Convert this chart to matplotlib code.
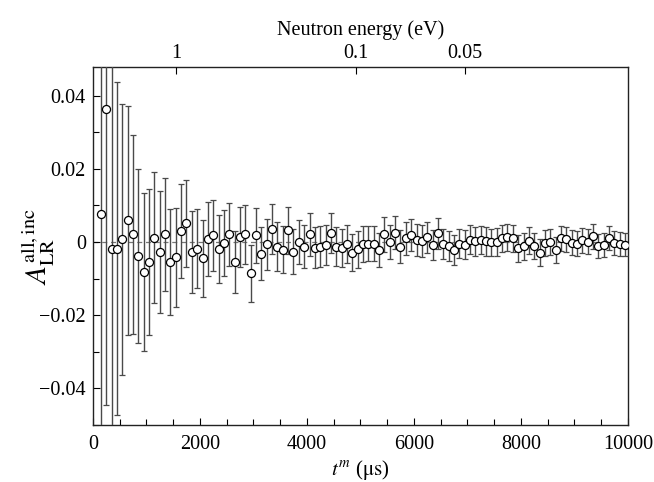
"""Left-right asymmetry vs. neutron time-of-flight, with energy on the top axis."""

import matplotlib
matplotlib.use("Agg")
import matplotlib.pyplot as plt
import matplotlib.ticker as mticker
import numpy as np

plt.rcParams["font.family"] = ["Liberation Serif", "DejaVu Serif"]
plt.rcParams["mathtext.fontset"] = "stix"

# time-of-flight bin centres (us)
t_us = [150 + 100 * i for i in range(99)]

asym = [
    0.0077, 0.0365, -0.0018, -0.0018, 0.0007, 0.0059, 0.0021, -0.0038, -0.0082, -0.0055,
    0.0012, -0.0027, 0.0021, -0.0055, -0.0042, 0.0030, 0.0051, -0.0027, -0.0018, -0.0045,
    0.0009, 0.0019, -0.0018, -0.0003, 0.0021, -0.0055, 0.0015, 0.0021, -0.0086, 0.0018,
    -0.0032, -0.0006, 0.0035, -0.0013, -0.0021, 0.0032, -0.0026, 0.0001, -0.0013, 0.0021,
    -0.0015, -0.0013, -0.0008, 0.0025, -0.0013, -0.0015, -0.0005, -0.0029, -0.0020, -0.0005,
    -0.0004, -0.0005, -0.0022, 0.0021, 0.0000, 0.0026, -0.0013, 0.0010, 0.0019, 0.0005,
    0.0003, 0.0013, -0.0008, 0.0024, -0.0006, -0.0011, -0.0023, -0.0005, -0.0007, 0.0006,
    0.0002, 0.0006, 0.0002, -0.0001, 0.0000, 0.0010, 0.0013, 0.0010, -0.0017, -0.0011,
    0.0004, -0.0011, -0.0029, -0.0002, 0.0000, -0.0021, 0.0010, 0.0007, -0.0002, -0.0004,
    0.0005, 0.0001, 0.0016, -0.0011, -0.0008, 0.0012, -0.0002, -0.0006, -0.0007,
]

asym_err = [
    0.0600, 0.0810, 0.0560, 0.0455, 0.0370, 0.0314, 0.0273, 0.0237, 0.0215, 0.0199,
    0.0180, 0.0167, 0.0155, 0.0145, 0.0136, 0.0128, 0.0119, 0.0113, 0.0109, 0.0105,
    0.0101, 0.0097, 0.0093, 0.0090, 0.0087, 0.0084, 0.0082, 0.0080, 0.0077, 0.0075,
    0.0073, 0.0070, 0.0069, 0.0067, 0.0065, 0.0064, 0.0062, 0.0060, 0.0059, 0.0058,
    0.0057, 0.0056, 0.0055, 0.0054, 0.0053, 0.0052, 0.0051, 0.0051, 0.0050, 0.0049,
    0.0049, 0.0048, 0.0047, 0.0047, 0.0046, 0.0046, 0.0045, 0.0045, 0.0044, 0.0044,
    0.0043, 0.0043, 0.0042, 0.0042, 0.0041, 0.0041, 0.0041, 0.0040, 0.0040, 0.0040,
    0.0039, 0.0039, 0.0039, 0.0038, 0.0038, 0.0038, 0.0037, 0.0037, 0.0037, 0.0037,
    0.0036, 0.0036, 0.0036, 0.0036, 0.0035, 0.0035, 0.0035, 0.0035, 0.0034, 0.0034,
    0.0034, 0.0034, 0.0034, 0.0033, 0.0033, 0.0033, 0.0033, 0.0033, 0.0032,
]

energy_ticks_eV = [1, 0.1, 0.05]
energy_labels = ["1", "0.1", "0.05"]
flight_path_m = 21.5

y_ticks = [-0.04, -0.02, 0, 0.02, 0.04]
y_labels = ["\u22120.04", "\u22120.02", "0", "0.02", "0.04"]


def tof_us(energy_eV: float) -> float:
    # neutron speed from kinetic energy, v = sqrt(2E/m)
    v = np.sqrt(2 * energy_eV * 1.602177e-19 / 1.674927e-27)
    return flight_path_m / v * 1e6


fig = plt.figure(figsize=(6.54, 4.82), dpi=100)
ax = fig.add_axes([0.142, 0.118, 0.818, 0.743])

ax.axhline(0, color="#777777", lw=0.9, ls=(0, (4, 3)), zorder=1)
ax.errorbar(
    t_us, asym, yerr=asym_err,
    fmt="o", ms=5.8, mfc="white", mec="black", mew=0.9,
    ecolor="#4a4a4a", elinewidth=1.0, capsize=2.2, capthick=0.9,
    zorder=3,
)

ax.set_xlim(0, 10000)
ax.set_ylim(-0.0501, 0.0479)

ax.xaxis.set_major_locator(mticker.MultipleLocator(2000))
ax.xaxis.set_minor_locator(mticker.MultipleLocator(500))
ax.set_yticks(y_ticks)
ax.set_yticklabels(y_labels)
ax.yaxis.set_minor_locator(mticker.MultipleLocator(0.01))

ax.tick_params(axis="both", which="both", direction="in", top=False, right=False,
               labelsize=14.5, colors="black")
ax.tick_params(axis="x", which="major", length=5, width=0.8, pad=7)
ax.tick_params(axis="y", which="major", length=5, width=0.8, pad=5)
ax.tick_params(axis="both", which="minor", length=4, width=0.8)

for s in ax.spines.values():
    s.set_linewidth(1.0)
    s.set_color("#222222")

ax.set_xlabel(r"$t^{m}$ ($\mathrm{\mu s}$)", fontsize=15, labelpad=3)
ax.set_ylabel(r"$A_{\mathrm{LR}}^{\mathrm{all,inc}}$", fontsize=21, va="center")
ax.yaxis.set_label_coords(-0.103, 0.5)

# top axis: neutron energy
top = ax.twiny()
top.set_xlim(ax.get_xlim())
top.set_xticks([tof_us(e) for e in energy_ticks_eV])
top.set_xticklabels(energy_labels)
top.tick_params(axis="x", direction="in", length=5, width=0.8, labelsize=14.5, pad=3)
top.set_xlabel("Neutron energy (eV)", fontsize=14.5, labelpad=6)
for s in top.spines.values():
    s.set_visible(False)

fig.savefig("out.png", dpi=100)
